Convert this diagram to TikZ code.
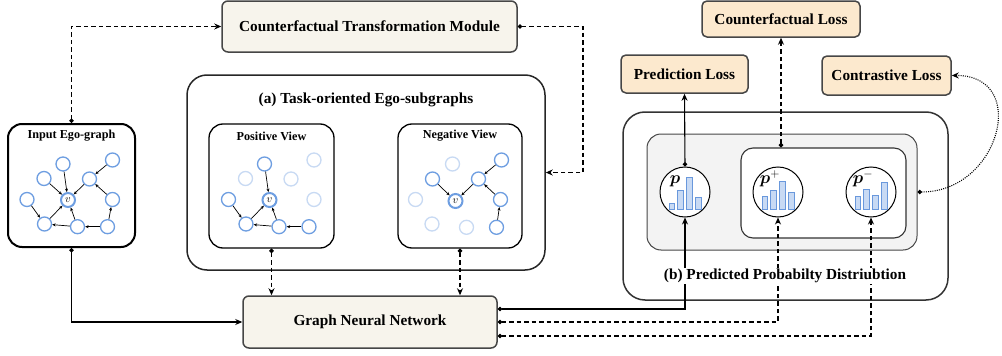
\documentclass[tikz,border=0pt]{standalone}
\usepackage{fontspec}
\setmainfont{Liberation Serif}
\usepackage{amsmath,bm}
\usetikzlibrary{arrows.meta,calc}
\definecolor{boxgray}{RGB}{70,70,70}
\definecolor{beige}{RGB}{247,244,236}
\definecolor{lossfill}{RGB}{252,233,206}
\definecolor{grayfill}{RGB}{243,243,243}
\definecolor{nodeblue}{RGB}{110,158,225}
\definecolor{faintblue}{RGB}{200,218,243}
\definecolor{barfill}{RGB}{200,218,244}
\definecolor{bardraw}{RGB}{105,152,220}
\newcommand\probbars[5]{%
  \draw[bar] ({#1-16},209) rectangle ++(5.8,-#2);
  \draw[bar] ({#1-7.3},209) rectangle ++(5.8,-#3);
  \draw[bar] ({#1+1.4},209) rectangle ++(5.8,-#4);
  \draw[bar] ({#1+10.1},209) rectangle ++(5.8,-#5);
}
\begin{document}
\begin{tikzpicture}[x=1pt,y=-1pt,
  mainfont/.style={font=\fontsize{15.3}{18}\selectfont\bfseries},
  subfont/.style={font=\fontsize{12.2}{14}\selectfont\bfseries},
  modbox/.style={draw=boxgray,line width=1.5pt,rounded corners=6pt,fill=beige,inner sep=0pt,mainfont},
  lossbox/.style={draw=boxgray,line width=1.5pt,rounded corners=5pt,fill=lossfill,inner sep=0pt,mainfont},
  bigbox/.style={draw=black!85,line width=1.5pt,rounded corners=20pt,inner sep=0pt},
  viewbox/.style={draw=black,line width=1.3pt,rounded corners=14pt,inner sep=0pt},
  gnode/.style={circle,draw=nodeblue,line width=1.3pt,fill=white,minimum size=14pt,inner sep=0pt},
  fnode/.style={gnode,draw=faintblue},
  vnode/.style={gnode,line width=2pt,font=\fontsize{11}{11}\selectfont},
  gedge/.style={-{Stealth[length=3.5pt,width=3pt]},line width=0.7pt},
  conn/.style={line width=1.1pt,{Circle[length=4.5pt]}-{Stealth[length=7pt,width=6pt]}},
  dconn/.style={conn,dash pattern=on 4.5pt off 3pt},
  dotconn/.style={conn,dash pattern=on 1pt off 1.2pt},
  pcirc/.style={circle,draw=black,line width=1pt,fill=white,minimum size=50pt,inner sep=0pt},
  bar/.style={draw=bardraw,fill=barfill,line width=0.8pt},
  plabel/.style={font=\fontsize{17}{17}\selectfont,inner sep=0pt}
]
\useasboundingbox (0,0) rectangle (1002,356);

% top module and losses
\node[modbox,minimum width=295pt,minimum height=51pt] (ctm) at (369.5,26.5) {Counterfactual Transformation Module};
\node[lossbox,minimum width=158pt,minimum height=36pt] (cfloss) at (781,19) {Counterfactual Loss};
\node[lossbox,minimum width=127pt,minimum height=38pt] (predloss) at (684.5,74) {Prediction Loss};
\node[lossbox,minimum width=129pt,minimum height=39pt] (conloss) at (886.5,75.5) {Contrastive Loss};

% (a) task box
\node[bigbox,minimum width=358pt,minimum height=195pt] (taskbox) at (366,172.5) {};
\node[mainfont] (tasktitle) at (366,100) {(a) Task-oriented Ego-subgraphs};
\node[viewbox,minimum width=125pt,minimum height=124pt] (posbox) at (271.5,186) {};
\node[subfont] (postitle) at (271.5,136) {Positive View};
\node[viewbox,minimum width=124pt,minimum height=124pt] (negbox) at (460,186) {};
\node[subfont] (negtitle) at (460,136) {Negative View};

% input box
\node[viewbox,line width=2pt,minimum width=127pt,minimum height=123pt] (inbox) at (71.5,185.5) {};
\node[subfont] (intitle) at (71.5,136) {Input Ego-graph};

% GNN
\node[modbox,minimum width=254pt,minimum height=52pt] (gnn) at (370,322) {Graph Neural Network};

% (b) box
\node[bigbox,draw=black!80,rounded corners=22pt,minimum width=325pt,minimum height=188pt] (outb) at (785.5,206) {};
\node[draw=boxgray,fill=grayfill,line width=1pt,rounded corners=14pt,minimum width=270pt,minimum height=116pt] (grayb) at (782,192) {};
\node[draw=black!80,fill=white,line width=1.1pt,rounded corners=12pt,minimum width=165pt,minimum height=90pt] (innerb) at (823.5,193) {};

\node[pcirc] (pc) at (685,192) {};
\node[pcirc] (ppc) at (778,192) {};
\node[pcirc] (pmc) at (871,192) {};
\probbars{685}{6}{19}{32}{12}
\probbars{778}{12.3}{19}{28}{17}
\probbars{871}{13}{19.7}{13.3}{26.3}
\node[plabel] (pl) at (675,181) {$\bm{p}$};
\node[plabel] (ppl) at (770,179) {$\bm{p}^{+}$};
\node[plabel] (pml) at (863,179) {$\bm{p}^{-}$};

% input ego-graph
\begin{scope}[shift={(68,200)}]
\node[vnode] (iv) at (0,0) {$v$};
\node[gnode] (ia) at (-5,-36) {};
\node[gnode] (ib) at (44.5,-40) {};
\node[gnode] (ic) at (-24,-21.5) {};
\node[gnode] (id) at (21.5,-21) {};
\node[gnode] (ie) at (-41,-0.5) {};
\node[gnode] (if) at (44.5,-0.5) {};
\node[gnode] (ig) at (-23.5,24) {};
\node[gnode] (ih) at (9.5,26.7) {};
\node[gnode] (ii) at (39.5,26.7) {};
\end{scope}
\foreach \s/\t in {ia/iv,ic/iv,id/iv,ib/id,if/id,ii/if,ii/ih,ih/ig,ih/iv,ig/iv,ie/ig}
  \draw[gedge] (\s) -- (\t);

% positive view
\begin{scope}[shift={(269.5,200)}]
\node[vnode] (pv) at (0,0) {$v$};
\node[gnode] (pa) at (-5,-36) {};
\node[fnode] (pb) at (44.5,-40) {};
\node[fnode] (pcc) at (-24,-21.5) {};
\node[fnode] (pd) at (21.5,-21) {};
\node[gnode] (pe) at (-41,-0.5) {};
\node[fnode] (pf) at (44.5,-0.5) {};
\node[gnode] (pg) at (-23.5,24) {};
\node[gnode] (ph) at (9.5,26.7) {};
\node[gnode] (pi) at (39.5,26.7) {};
\end{scope}
\foreach \s/\t in {pa/pv,pe/pg,pg/pv,ph/pv,ph/pg,pi/ph}
  \draw[gedge] (\s) -- (\t);

% negative view
\begin{scope}[shift={(455.5,201)}]
\node[vnode] (nv) at (0,0) {$v$};
\node[fnode] (na) at (-3,-37) {};
\node[gnode] (nb) at (46,-41) {};
\node[gnode] (nc) at (-23,-22) {};
\node[gnode] (nd) at (23,-22) {};
\node[fnode] (ne) at (-40,-1.5) {};
\node[gnode] (nf) at (45,-1.5) {};
\node[fnode] (ng) at (-23.5,23) {};
\node[fnode] (nh) at (11,26.3) {};
\node[gnode] (ni) at (41,26.3) {};
\end{scope}
\foreach \s/\t in {nc/nv,nd/nv,nb/nd,nf/nd,ni/nf}
  \draw[gedge] (\s) -- (\t);

% connectors
\coordinate (cturn) at (583,26.5);
\draw[dconn] (inbox.north) |- (ctm.west);
\draw[dconn] (ctm.east) -- (cturn) |- (taskbox.east);
\draw[conn] (inbox.south) |- (gnn.west);
\draw[dconn] (posbox.south) -- (posbox.south |- gnn.north);
\draw[dconn] (negbox.south) -- (negbox.south |- gnn.north);
\draw[conn] ([yshift=13pt]gnn.east) -| (pc.south);
\draw[dconn] (gnn.east) -| (ppc.south);
\draw[dconn] ([yshift=-14pt]gnn.east) -| (pmc.south);
\draw[conn] (pc.north) -- (predloss.south);
\draw[dconn] (cfloss.south |- innerb.north) -- (cfloss.south);
\draw[dotconn] (grayb.east) .. controls (1000,192) and (1030,75) .. (conloss.east);

% title of (b), drawn over the connectors
\node[mainfont,fill=white,inner sep=1pt] (btitle) at (785,276) {(b) Predicted Probabilty Distriubtion};
\end{tikzpicture}
\end{document}
